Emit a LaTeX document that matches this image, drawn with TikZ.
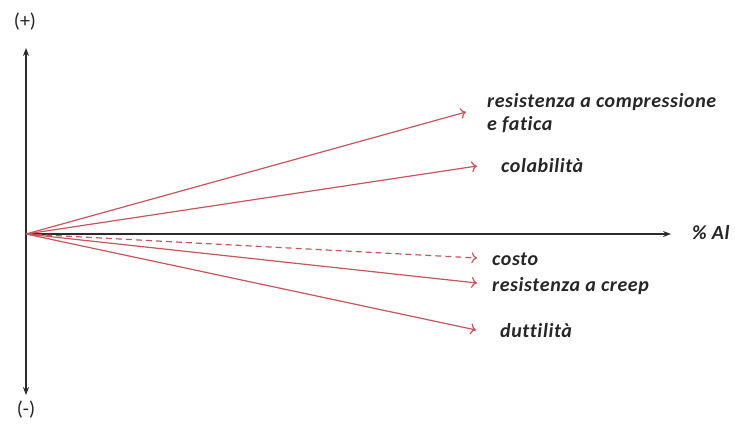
\documentclass[tikz,border=0pt]{standalone}
\usepackage{fontspec}
\setmainfont{Carlito}[Ligatures=NoCommon]
\usetikzlibrary{arrows.meta}
\definecolor{axisgray}{HTML}{2B2B2B}
\definecolor{trendred}{HTML}{C8555A}
\definecolor{labelgray}{HTML}{262626}
\tikzset{
  axis/.style={draw=axisgray, line width=1.3pt, -{Stealth[length=8pt,width=6pt]}},
  trend/.style={draw=trendred, line width=1.2pt, -{To[length=5.5pt,width=11pt]}},
  trenddash/.style={trend, dash pattern=on 6pt off 4pt},
  lbl/.style={anchor=west, inner sep=0pt, text=labelgray,
    font=\fontsize{20}{23}\selectfont\bfseries\itshape\addfontfeature{LetterSpace=3}, align=left},
  sign/.style={inner sep=0pt, text=labelgray, font=\fontsize{20}{22}\selectfont},
}
\begin{document}
\begin{tikzpicture}[x=1pt,y=-1pt]
  \useasboundingbox[fill=white] (0,0) rectangle (735,424);
  % axes
  \coordinate (O) at (26,234);
  \coordinate (ytop) at (26,48);
  \coordinate (ybot) at (26,395);
  \coordinate (xend) at (671,234);
  \draw[axis] (O) -- (ytop);
  \draw[axis] (O) -- (ybot);
  \draw[axis] (O) -- (xend);
  \node[sign] (plus) at (25,22) {(+)};
  \node[sign] (minus) at (26,410) {(-)};
  \node[lbl] (al) at (692,233) {\% Al};
  % trends
  \coordinate (t1) at (466,112);
  \coordinate (t2) at (477,166);
  \coordinate (t3) at (477,258);
  \coordinate (t4) at (477,283);
  \coordinate (t5) at (476,330);
  \draw[trend] (O) -- (t1);
  \draw[trend] (O) -- (t2);
  \draw[trenddash] (O) -- (t3);
  \draw[trend] (O) -- (t4);
  \draw[trend] (O) -- (t5);
  \node[lbl] (l1) at (487,113) {resistenza a compressione\\e fatica};
  \node[lbl] (l2) at (501,166) {colabilità};
  \node[lbl] (l3) at (492,259) {costo};
  \node[lbl] (l4) at (492,286) {resistenza a creep};
  \node[lbl] (l5) at (500,331) {duttilità};
\end{tikzpicture}
\end{document}
